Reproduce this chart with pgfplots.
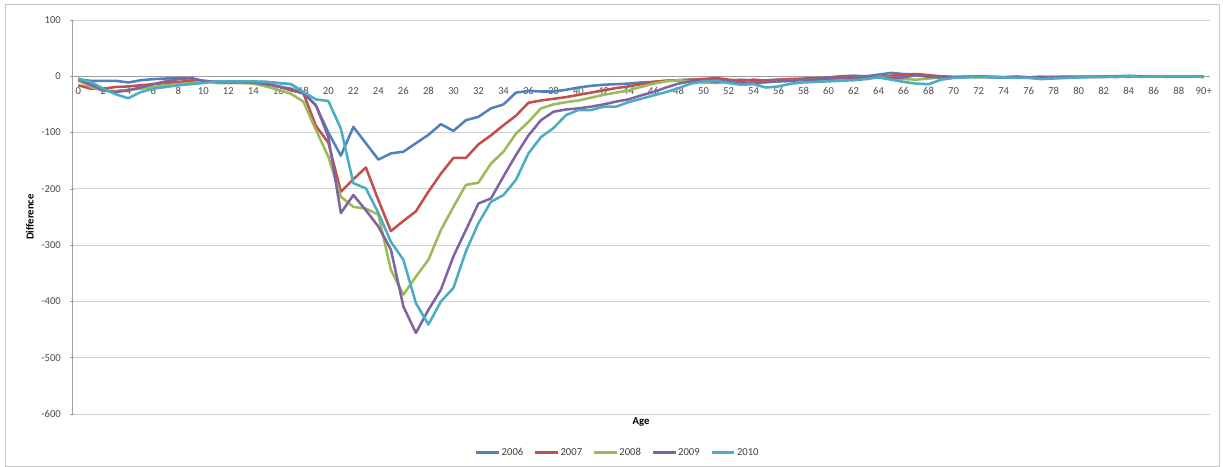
\documentclass[border=0pt]{standalone}
\usepackage{fontspec}
\setmainfont{Carlito}
\usepackage{pgfplots}
\pgfplotsset{compat=1.18}
\usepackage{pgfplotstable}
\definecolor{cA}{HTML}{4F81BD}
\definecolor{cB}{HTML}{C0504D}
\definecolor{cC}{HTML}{9BBB59}
\definecolor{cD}{HTML}{8064A2}
\definecolor{cE}{HTML}{4BACC6}
\pgfplotstableread{
age y2006 y2007 y2008 y2009 y2010
0 -6 -16 -8 -5 -4
1 -8 -22 -19 -15 -10
2 -8 -22 -26 -25 -22
3 -8 -19 -26 -28 -32
4 -11 -18 -24 -25 -39
5 -7 -16 -22 -20 -28
6 -5 -14 -19 -14 -22
7 -4 -12 -16 -9 -19
8 -3 -10 -14 -5 -16
9 -4 -8 -12 -3 -14
10 -9 -8 -9 -8 -12
11 -10 -10 -12 -10 -9
12 -10 -10 -12 -11 -9
13 -10 -10 -12 -11 -9
14 -10 -11 -13 -11 -9
15 -10 -13 -18 -14 -10
16 -12 -18 -24 -18 -12
17 -14 -25 -31 -22 -14
18 -28 -30 -45 -31 -28
19 -52 -88 -95 -51 -41
20 -100 -118 -143 -108 -44
21 -141 -205 -214 -243 -93
22 -90 -183 -232 -211 -190
23 -119 -162 -235 -238 -199
24 -148 -220 -246 -267 -243
25 -137 -275 -344 -308 -294
26 -134 -257 -388 -409 -326
27 -119 -240 -356 -456 -403
28 -104 -205 -326 -415 -441
29 -85 -173 -273 -379 -400
30 -97 -145 -232 -320 -376
31 -78 -145 -193 -273 -311
32 -72 -121 -189 -226 -261
33 -57 -105 -155 -217 -223
34 -50 -87 -134 -178 -211
35 -29 -70 -102 -140 -184
36 -26 -47 -81 -105 -137
37 -27 -43 -57 -78 -108
38 -27 -40 -50 -63 -92
39 -24 -37 -46 -59 -69
40 -20 -33 -43 -57 -60
41 -17 -29 -38 -54 -60
42 -15 -25 -33 -50 -54
43 -14 -21 -29 -45 -54
44 -13 -18 -25 -41 -46
45 -11 -14 -19 -34 -40
46 -10 -10 -13 -28 -34
47 -8 -8 -9 -20 -28
48 -7 -7 -7 -13 -21
49 -6 -6 -9 -9 -13
50 -5 -5 -11 -7 -9
51 -6 -3 -12 -10 -8
52 -8 -6 -10 -9 -12
53 -6 -8 -12 -11 -15
54 -8 -6 -13 -13 -14
55 -7 -8 -11 -10 -20
56 -6 -6 -9 -9 -18
57 -5 -5 -8 -8 -13
58 -6 -4 -7 -6 -11
59 -4 -3 -6 -6 -10
60 -2 -3 -5 -4 -9
61 0 -1 -5 -3 -8
62 1 0 -3 -3 -7
63 0 -1 -2 -2 -5
64 3 -1 -1 -2 -2
65 6 1 -3 -4 -6
66 4 3 -5 -2 -10
67 3 4 -6 2 -13
68 0 2 -4 -1 -14
69 -1 0 -2 -2 -6
70 -2 -1 -1 -2 -3
71 -1 -1 -1 -1 -2
72 0 0 -2 -1 -1
73 -1 -2 -1 -1 -2
74 -2 -2 -1 -2 -2
75 -1 -1 -1 -1 -3
76 -2 -2 -2 -2 -3
77 -2 -1 -2 -1 -5
78 -1 -2 -1 -2 -4
79 -1 -1 -1 -1 -3
80 -1 -1 -1 -1 -2
81 -1 -1 -1 -1 -1
82 -1 0 -1 -1 -1
83 0 -1 -1 0 -1
84 1 0 0 -1 0
85 0 0 0 0 -1
86 0 0 -1 0 0
87 0 -1 0 0 0
88 0 0 0 0 0
89 0 0 0 0 0
90 -1 -1 -1 -1 -1
}\datatable
\begin{document}
\fontsize{8}{9.6}\selectfont
\begin{tikzpicture}
\path[use as bounding box] (-54pt,-39.75pt) rectangle (863.25pt,310.5pt);
\draw[gray!45, line width=0.75pt] (-49.5pt,-39.2pt) rectangle (860.5pt,306.75pt);
\begin{axis}[
  at={(0,0)}, anchor=south west,
  scale only axis, width=853.5pt, height=295.5pt,
  xmin=-0.5, xmax=90.5, ymin=-600, ymax=100,
  axis x line=middle, axis y line=left,
  axis line style={-, draw=gray!75, line width=0.6pt},
  hide obscured x ticks=false, hide obscured y ticks=false,
  xtick={0,2,...,90},
  xticklabels={0,2,4,6,8,10,12,14,16,18,20,22,24,26,28,30,32,34,36,38,40,42,44,46,48,50,52,54,56,58,60,62,64,66,68,70,72,74,76,78,80,82,84,86,88,90+},
  xtick style={draw=none},
  minor xtick={-0.5,0.5,...,90.5},
  minor tick length=3pt,
  tick align=center,
  every tick/.style={gray!75, line width=0.5pt},
  ytick={-600,-500,-400,-300,-200,-100,0,100},
  yticklabels={-600,-500,-400,-300,-200,-100,0,100},
  major tick length=3pt,
  ymajorgrids,
  major grid style={gray!35, line width=0.6pt},
  ticklabel style={font=\fontsize{8}{9.6}\selectfont, text=black!70},
  xticklabel style={yshift=-4pt},
  yticklabel style={xshift=-4pt},
  xlabel={\textbf{Age}},
  xlabel style={at={(axis description cs:0.5,-0.0203)}, anchor=center, font=\fontsize{8}{9.6}\selectfont},
  ylabel={\textbf{Difference}},
  ylabel style={at={(axis description cs:-0.0369,0.5)}, anchor=center, font=\fontsize{8}{9.6}\selectfont},
  legend columns=5,
  legend style={at={(axis description cs:0.4794,-0.0982)}, anchor=center, draw=none, fill=none,
    font=\fontsize{8}{9.6}\selectfont, text=black!75,
    /tikz/every even column/.append style={column sep=7pt},
    nodes={inner sep=1pt}},
  legend image code/.code={\draw[#1] (0pt,0pt) -- (17pt,0pt);},
  every axis plot/.append style={line width=1.9pt, line join=round, mark=none},
]
\addplot[cA] table[x=age, y=y2006] {\datatable};
\addplot[cB] table[x=age, y=y2007] {\datatable};
\addplot[cC] table[x=age, y=y2008] {\datatable};
\addplot[cD] table[x=age, y=y2009] {\datatable};
\addplot[cE] table[x=age, y=y2010] {\datatable};
\legend{2006,2007,2008,2009,2010}
\end{axis}
\end{tikzpicture}
\end{document}
